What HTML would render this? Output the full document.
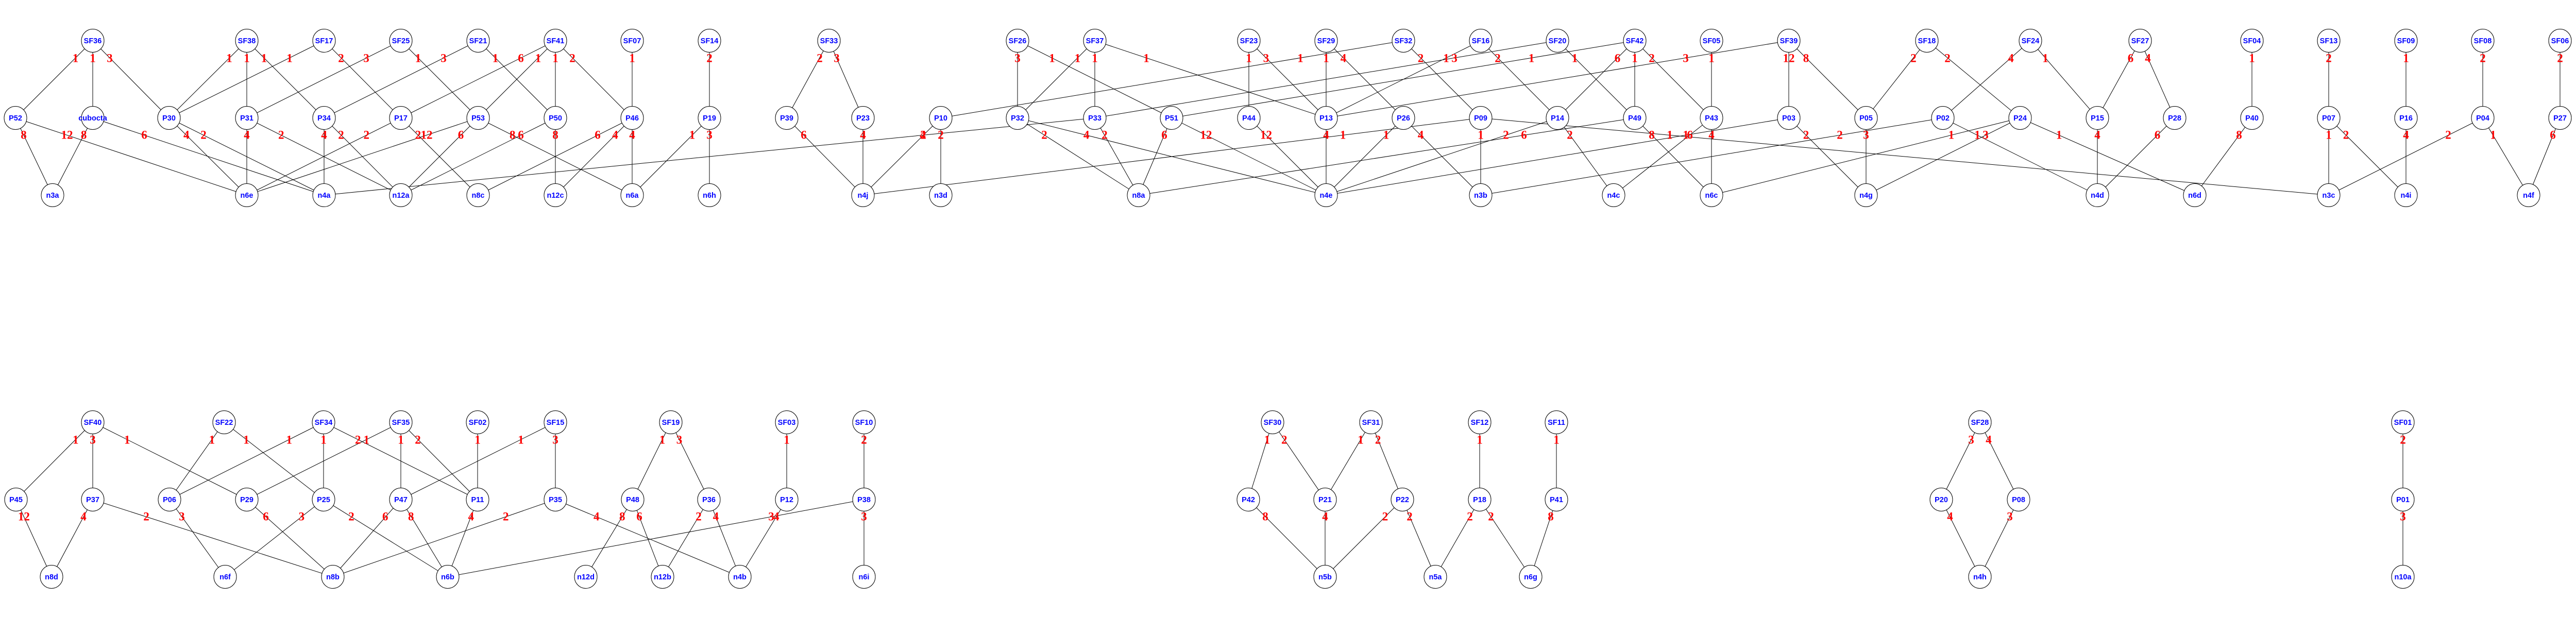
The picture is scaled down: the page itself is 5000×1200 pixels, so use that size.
<!DOCTYPE html>
<html><head><meta charset="utf-8"><style>
html,body{margin:0;padding:0;background:#fff;}
svg{display:block;}
.n{font-family:"Liberation Sans",Arial,sans-serif;font-weight:bold;font-size:14.5px;fill:#0000ff;text-anchor:middle;}
.l{font-family:"Liberation Serif","Times New Roman",serif;font-weight:bold;font-size:23px;fill:#ff0000;text-anchor:middle;}
</style></head><body>
<svg width="5000" height="1200" viewBox="0 0 5000 1200" xmlns="http://www.w3.org/2000/svg">
<rect width="5000" height="1200" fill="#fff"/>
<g stroke="#000" stroke-width="1" fill="none">
<path d="M180 79L30 229M180 79L180 229M180 79L328 229M479 79L328 229M479 79L479 229M479 79L629 229M629 79L328 229M629 79L778 229M778 79L479 229M778 79L928 229M928 79L629 229M928 79L1078 229M1078 79L778 229M1078 79L928 229M1078 79L1078 229M1078 79L1227 229M1227 79L1227 229M1377 79L1377 229M1609 79L1527 229M1609 79L1675 229M1975 79L1975 229M1975 79L2274 229M2125 79L1975 229M2125 79L2125 229M2125 79L2574 229M2424 79L2424 229M2424 79L2574 229M2574 79L2574 229M2574 79L2724 229M2724 79L1826 229M2724 79L2874 229M2874 79L2574 229M2874 79L3023 229M3023 79L2125 229M3023 79L3173 229M3173 79L2274 229M3173 79L3023 229M3173 79L3173 229M3173 79L3322 229M3322 79L3322 229M3472 79L2574 229M3472 79L3472 229M3472 79L3622 229M3740 79L3622 229M3740 79L3921 229M3941 79L3771 229M3941 79L4071 229M4154 79L4071 229M4154 79L4221 229M4371 79L4371 229M4520 79L4520 229M4670 79L4670 229M4819 79L4819 229M4969 79L4969 229"/>
<path d="M30 229L102 379M30 229L479 379M180 229L102 379M180 229L629 379M328 229L479 379M328 229L629 379M479 229L479 379M479 229L778 379M629 229L629 379M629 229L778 379M778 229L479 379M778 229L928 379M928 229L479 379M928 229L778 379M928 229L1227 379M1078 229L778 379M1078 229L1078 379M1227 229L928 379M1227 229L1078 379M1227 229L1227 379M1377 229L1227 379M1377 229L1377 379M1527 229L1675 379M1675 229L1675 379M1826 229L1675 379M1826 229L1826 379M2125 229L629 379M1975 229L2210 379M1975 229L2574 379M2125 229L2210 379M2274 229L2210 379M2274 229L2574 379M2424 229L2574 379M2574 229L2574 379M2724 229L2574 379M2724 229L2874 379M2874 229L1675 379M2874 229L2874 379M2874 229L4520 379M3023 229L2574 379M3023 229L3132 379M3173 229L2210 379M3173 229L3322 379M3322 229L3132 379M3322 229L3322 379M3472 229L2574 379M3472 229L3622 379M3622 229L3622 379M3771 229L2874 379M3771 229L4071 379M3921 229L3322 379M3921 229L3622 379M3921 229L4260 379M4071 229L4071 379M4221 229L4071 379M4371 229L4260 379M4520 229L4520 379M4520 229L4670 379M4670 229L4670 379M4819 229L4520 379M4819 229L4908 379M4969 229L4908 379"/>
<path d="M180 820L31 970M180 820L180 970M180 820L479 970M435 820L329 970M435 820L628 970M628 820L329 970M628 820L628 970M628 820L927 970M778 820L479 970M778 820L778 970M778 820L927 970M927 820L927 970M1078 820L778 970M1078 820L1078 970M1302 820L1228 970M1302 820L1376 970M1527 820L1527 970M1677 820L1677 970M2470 820L2423 970M2470 820L2572 970M2661 820L2572 970M2661 820L2722 970M2872 820L2872 970M3021 820L3021 970M3843 820L3768 970M3843 820L3918 970M4664 820L4664 970"/>
<path d="M31 970L100 1120M180 970L100 1120M180 970L646 1120M329 970L437 1120M479 970L646 1120M628 970L437 1120M628 970L869 1120M778 970L646 1120M778 970L869 1120M927 970L869 1120M1078 970L646 1120M1078 970L1436 1120M1228 970L1137 1120M1228 970L1286 1120M1376 970L1286 1120M1376 970L1436 1120M1527 970L1436 1120M1677 970L869 1120M1677 970L1677 1120M2423 970L2572 1120M2572 970L2572 1120M2722 970L2572 1120M2722 970L2786 1120M2872 970L2786 1120M2872 970L2971 1120M3021 970L2971 1120M3768 970L3843 1120M3918 970L3843 1120M4664 970L4664 1120"/>
</g>
<g stroke="#000" stroke-width="1" fill="#fff">
<!-- top SF row y=79 -->
<ellipse cx="180" cy="79" rx="22" ry="22.5"/><ellipse cx="479" cy="79" rx="22" ry="22.5"/><ellipse cx="629" cy="79" rx="22" ry="22.5"/><ellipse cx="778" cy="79" rx="22" ry="22.5"/><ellipse cx="928" cy="79" rx="22" ry="22.5"/><ellipse cx="1078" cy="79" rx="22" ry="22.5"/><ellipse cx="1227" cy="79" rx="22" ry="22.5"/><ellipse cx="1377" cy="79" rx="22" ry="22.5"/><ellipse cx="1609" cy="79" rx="22" ry="22.5"/><ellipse cx="1975" cy="79" rx="22" ry="22.5"/><ellipse cx="2125" cy="79" rx="22" ry="22.5"/><ellipse cx="2424" cy="79" rx="22" ry="22.5"/><ellipse cx="2574" cy="79" rx="22" ry="22.5"/><ellipse cx="2724" cy="79" rx="22" ry="22.5"/><ellipse cx="2874" cy="79" rx="22" ry="22.5"/><ellipse cx="3023" cy="79" rx="22" ry="22.5"/><ellipse cx="3173" cy="79" rx="22" ry="22.5"/><ellipse cx="3322" cy="79" rx="22" ry="22.5"/><ellipse cx="3472" cy="79" rx="22" ry="22.5"/><ellipse cx="3740" cy="79" rx="22" ry="22.5"/><ellipse cx="3941" cy="79" rx="22" ry="22.5"/><ellipse cx="4154" cy="79" rx="22" ry="22.5"/><ellipse cx="4371" cy="79" rx="22" ry="22.5"/><ellipse cx="4520" cy="79" rx="22" ry="22.5"/><ellipse cx="4670" cy="79" rx="22" ry="22.5"/><ellipse cx="4819" cy="79" rx="22" ry="22.5"/><ellipse cx="4969" cy="79" rx="22" ry="22.5"/>
<!-- top P row y=229 -->
<ellipse cx="30" cy="229" rx="22" ry="22.5"/><ellipse cx="180" cy="229" rx="22" ry="22.5"/><ellipse cx="328" cy="229" rx="22" ry="22.5"/><ellipse cx="479" cy="229" rx="22" ry="22.5"/><ellipse cx="629" cy="229" rx="22" ry="22.5"/><ellipse cx="778" cy="229" rx="22" ry="22.5"/><ellipse cx="928" cy="229" rx="22" ry="22.5"/><ellipse cx="1078" cy="229" rx="22" ry="22.5"/><ellipse cx="1227" cy="229" rx="22" ry="22.5"/><ellipse cx="1377" cy="229" rx="22" ry="22.5"/><ellipse cx="1527" cy="229" rx="22" ry="22.5"/><ellipse cx="1675" cy="229" rx="22" ry="22.5"/><ellipse cx="1826" cy="229" rx="22" ry="22.5"/><ellipse cx="1975" cy="229" rx="22" ry="22.5"/><ellipse cx="2125" cy="229" rx="22" ry="22.5"/><ellipse cx="2274" cy="229" rx="22" ry="22.5"/><ellipse cx="2424" cy="229" rx="22" ry="22.5"/><ellipse cx="2574" cy="229" rx="22" ry="22.5"/><ellipse cx="2724" cy="229" rx="22" ry="22.5"/><ellipse cx="2874" cy="229" rx="22" ry="22.5"/><ellipse cx="3023" cy="229" rx="22" ry="22.5"/><ellipse cx="3173" cy="229" rx="22" ry="22.5"/><ellipse cx="3322" cy="229" rx="22" ry="22.5"/><ellipse cx="3472" cy="229" rx="22" ry="22.5"/><ellipse cx="3622" cy="229" rx="22" ry="22.5"/><ellipse cx="3771" cy="229" rx="22" ry="22.5"/><ellipse cx="3921" cy="229" rx="22" ry="22.5"/><ellipse cx="4071" cy="229" rx="22" ry="22.5"/><ellipse cx="4221" cy="229" rx="22" ry="22.5"/><ellipse cx="4371" cy="229" rx="22" ry="22.5"/><ellipse cx="4520" cy="229" rx="22" ry="22.5"/><ellipse cx="4670" cy="229" rx="22" ry="22.5"/><ellipse cx="4819" cy="229" rx="22" ry="22.5"/><ellipse cx="4969" cy="229" rx="22" ry="22.5"/>
<!-- top n row y=379 -->
<ellipse cx="102" cy="379" rx="22" ry="22.5"/><ellipse cx="479" cy="379" rx="22" ry="22.5"/><ellipse cx="629" cy="379" rx="22" ry="22.5"/><ellipse cx="778" cy="379" rx="22" ry="22.5"/><ellipse cx="928" cy="379" rx="22" ry="22.5"/><ellipse cx="1078" cy="379" rx="22" ry="22.5"/><ellipse cx="1227" cy="379" rx="22" ry="22.5"/><ellipse cx="1377" cy="379" rx="22" ry="22.5"/><ellipse cx="1675" cy="379" rx="22" ry="22.5"/><ellipse cx="1826" cy="379" rx="22" ry="22.5"/><ellipse cx="2210" cy="379" rx="22" ry="22.5"/><ellipse cx="2574" cy="379" rx="22" ry="22.5"/><ellipse cx="2874" cy="379" rx="22" ry="22.5"/><ellipse cx="3132" cy="379" rx="22" ry="22.5"/><ellipse cx="3322" cy="379" rx="22" ry="22.5"/><ellipse cx="3622" cy="379" rx="22" ry="22.5"/><ellipse cx="4071" cy="379" rx="22" ry="22.5"/><ellipse cx="4260" cy="379" rx="22" ry="22.5"/><ellipse cx="4520" cy="379" rx="22" ry="22.5"/><ellipse cx="4670" cy="379" rx="22" ry="22.5"/><ellipse cx="4908" cy="379" rx="22" ry="22.5"/>
<!-- bottom SF row y=820 -->
<ellipse cx="180" cy="820" rx="22" ry="22.5"/><ellipse cx="435" cy="820" rx="22" ry="22.5"/><ellipse cx="628" cy="820" rx="22" ry="22.5"/><ellipse cx="778" cy="820" rx="22" ry="22.5"/><ellipse cx="927" cy="820" rx="22" ry="22.5"/><ellipse cx="1078" cy="820" rx="22" ry="22.5"/><ellipse cx="1302" cy="820" rx="22" ry="22.5"/><ellipse cx="1527" cy="820" rx="22" ry="22.5"/><ellipse cx="1677" cy="820" rx="22" ry="22.5"/><ellipse cx="2470" cy="820" rx="22" ry="22.5"/><ellipse cx="2661" cy="820" rx="22" ry="22.5"/><ellipse cx="2872" cy="820" rx="22" ry="22.5"/><ellipse cx="3021" cy="820" rx="22" ry="22.5"/><ellipse cx="3843" cy="820" rx="22" ry="22.5"/><ellipse cx="4664" cy="820" rx="22" ry="22.5"/>
<!-- bottom P row y=970 -->
<ellipse cx="31" cy="970" rx="22" ry="22.5"/><ellipse cx="180" cy="970" rx="22" ry="22.5"/><ellipse cx="329" cy="970" rx="22" ry="22.5"/><ellipse cx="479" cy="970" rx="22" ry="22.5"/><ellipse cx="628" cy="970" rx="22" ry="22.5"/><ellipse cx="778" cy="970" rx="22" ry="22.5"/><ellipse cx="927" cy="970" rx="22" ry="22.5"/><ellipse cx="1078" cy="970" rx="22" ry="22.5"/><ellipse cx="1228" cy="970" rx="22" ry="22.5"/><ellipse cx="1376" cy="970" rx="22" ry="22.5"/><ellipse cx="1527" cy="970" rx="22" ry="22.5"/><ellipse cx="1677" cy="970" rx="22" ry="22.5"/><ellipse cx="2423" cy="970" rx="22" ry="22.5"/><ellipse cx="2572" cy="970" rx="22" ry="22.5"/><ellipse cx="2722" cy="970" rx="22" ry="22.5"/><ellipse cx="2872" cy="970" rx="22" ry="22.5"/><ellipse cx="3021" cy="970" rx="22" ry="22.5"/><ellipse cx="3768" cy="970" rx="22" ry="22.5"/><ellipse cx="3918" cy="970" rx="22" ry="22.5"/><ellipse cx="4664" cy="970" rx="22" ry="22.5"/>
<!-- bottom n row y=1120 -->
<ellipse cx="100" cy="1120" rx="22" ry="22.5"/><ellipse cx="437" cy="1120" rx="22" ry="22.5"/><ellipse cx="646" cy="1120" rx="22" ry="22.5"/><ellipse cx="869" cy="1120" rx="22" ry="22.5"/><ellipse cx="1137" cy="1120" rx="22" ry="22.5"/><ellipse cx="1286" cy="1120" rx="22" ry="22.5"/><ellipse cx="1436" cy="1120" rx="22" ry="22.5"/><ellipse cx="1677" cy="1120" rx="22" ry="22.5"/><ellipse cx="2572" cy="1120" rx="22" ry="22.5"/><ellipse cx="2786" cy="1120" rx="22" ry="22.5"/><ellipse cx="2971" cy="1120" rx="22" ry="22.5"/><ellipse cx="3843" cy="1120" rx="22" ry="22.5"/><ellipse cx="4664" cy="1120" rx="22" ry="22.5"/>
</g>
<g class="n">
<text x="180" y="84">SF36</text><text x="479" y="84">SF38</text><text x="629" y="84">SF17</text><text x="778" y="84">SF25</text><text x="928" y="84">SF21</text><text x="1078" y="84">SF41</text><text x="1227" y="84">SF07</text><text x="1377" y="84">SF14</text><text x="1609" y="84">SF33</text><text x="1975" y="84">SF26</text><text x="2125" y="84">SF37</text><text x="2424" y="84">SF23</text><text x="2574" y="84">SF29</text><text x="2724" y="84">SF32</text><text x="2874" y="84">SF16</text><text x="3023" y="84">SF20</text><text x="3173" y="84">SF42</text><text x="3322" y="84">SF05</text><text x="3472" y="84">SF39</text><text x="3740" y="84">SF18</text><text x="3941" y="84">SF24</text><text x="4154" y="84">SF27</text><text x="4371" y="84">SF04</text><text x="4520" y="84">SF13</text><text x="4670" y="84">SF09</text><text x="4819" y="84">SF08</text><text x="4969" y="84">SF06</text>
<text x="30" y="234">P52</text><text x="180" y="234">cubocta</text><text x="328" y="234">P30</text><text x="479" y="234">P31</text><text x="629" y="234">P34</text><text x="778" y="234">P17</text><text x="928" y="234">P53</text><text x="1078" y="234">P50</text><text x="1227" y="234">P46</text><text x="1377" y="234">P19</text><text x="1527" y="234">P39</text><text x="1675" y="234">P23</text><text x="1826" y="234">P10</text><text x="1975" y="234">P32</text><text x="2125" y="234">P33</text><text x="2274" y="234">P51</text><text x="2424" y="234">P44</text><text x="2574" y="234">P13</text><text x="2724" y="234">P26</text><text x="2874" y="234">P09</text><text x="3023" y="234">P14</text><text x="3173" y="234">P49</text><text x="3322" y="234">P43</text><text x="3472" y="234">P03</text><text x="3622" y="234">P05</text><text x="3771" y="234">P02</text><text x="3921" y="234">P24</text><text x="4071" y="234">P15</text><text x="4221" y="234">P28</text><text x="4371" y="234">P40</text><text x="4520" y="234">P07</text><text x="4670" y="234">P16</text><text x="4819" y="234">P04</text><text x="4969" y="234">P27</text>
<text x="102" y="384">n3a</text><text x="479" y="384">n6e</text><text x="629" y="384">n4a</text><text x="778" y="384">n12a</text><text x="928" y="384">n8c</text><text x="1078" y="384">n12c</text><text x="1227" y="384">n6a</text><text x="1377" y="384">n6h</text><text x="1675" y="384">n4j</text><text x="1826" y="384">n3d</text><text x="2210" y="384">n8a</text><text x="2574" y="384">n4e</text><text x="2874" y="384">n3b</text><text x="3132" y="384">n4c</text><text x="3322" y="384">n6c</text><text x="3622" y="384">n4g</text><text x="4071" y="384">n4d</text><text x="4260" y="384">n6d</text><text x="4520" y="384">n3c</text><text x="4670" y="384">n4i</text><text x="4908" y="384">n4f</text>
<text x="180" y="825">SF40</text><text x="435" y="825">SF22</text><text x="628" y="825">SF34</text><text x="778" y="825">SF35</text><text x="927" y="825">SF02</text><text x="1078" y="825">SF15</text><text x="1302" y="825">SF19</text><text x="1527" y="825">SF03</text><text x="1677" y="825">SF10</text><text x="2470" y="825">SF30</text><text x="2661" y="825">SF31</text><text x="2872" y="825">SF12</text><text x="3021" y="825">SF11</text><text x="3843" y="825">SF28</text><text x="4664" y="825">SF01</text>
<text x="31" y="975">P45</text><text x="180" y="975">P37</text><text x="329" y="975">P06</text><text x="479" y="975">P29</text><text x="628" y="975">P25</text><text x="778" y="975">P47</text><text x="927" y="975">P11</text><text x="1078" y="975">P35</text><text x="1228" y="975">P48</text><text x="1376" y="975">P36</text><text x="1527" y="975">P12</text><text x="1677" y="975">P38</text><text x="2423" y="975">P42</text><text x="2572" y="975">P21</text><text x="2722" y="975">P22</text><text x="2872" y="975">P18</text><text x="3021" y="975">P41</text><text x="3768" y="975">P20</text><text x="3918" y="975">P08</text><text x="4664" y="975">P01</text>
<text x="100" y="1125">n8d</text><text x="437" y="1125">n6f</text><text x="646" y="1125">n8b</text><text x="869" y="1125">n6b</text><text x="1137" y="1125">n12d</text><text x="1286" y="1125">n12b</text><text x="1436" y="1125">n4b</text><text x="1677" y="1125">n6i</text><text x="2572" y="1125">n5b</text><text x="2786" y="1125">n5a</text><text x="2971" y="1125">n6g</text><text x="3843" y="1125">n4h</text><text x="4664" y="1125">n10a</text>
</g>
<g class="l">
<text x="146.5" y="120.5">1</text><text x="180" y="120.5">1</text><text x="213" y="120.5">3</text><text x="445" y="120.5">1</text><text x="479" y="120.5">1</text><text x="512.5" y="120.5">1</text><text x="562" y="120.5">1</text><text x="662" y="120.5">2</text><text x="711" y="120.5">3</text><text x="811.5" y="120.5">1</text><text x="861" y="120.5">3</text><text x="961.5" y="120.5">1</text><text x="1011" y="120.5">6</text><text x="1044.5" y="120.5">1</text><text x="1078" y="120.5">1</text><text x="1111" y="120.5">2</text><text x="1227" y="120.5">1</text><text x="1377" y="120.5">2</text><text x="1591" y="120.5">2</text><text x="1624" y="120.5">3</text><text x="1975" y="120.5">3</text><text x="2042" y="120.5">1</text><text x="2091.5" y="120.5">1</text><text x="2125" y="120.5">1</text><text x="2225" y="120.5">1</text><text x="2424" y="120.5">1</text><text x="2457.5" y="120.5">3</text><text x="2574" y="120.5">1</text><text x="2607.5" y="120.5">4</text><text x="2524" y="120.5">1</text><text x="2757.5" y="120.5">2</text><text x="2807" y="120.5">1</text><text x="2907" y="120.5">2</text><text x="2823" y="120.5">3</text><text x="3056.5" y="120.5">1</text><text x="2972.5" y="120.5">1</text><text x="3139.5" y="120.5">6</text><text x="3173" y="120.5">1</text><text x="3206" y="120.5">2</text><text x="3322" y="120.5">1</text><text x="3272" y="120.5">3</text><text x="3472" y="120.5">12</text><text x="3505.5" y="120.5">8</text><text x="3714" y="120.5">2</text><text x="3780" y="120.5">2</text><text x="3903" y="120.5">4</text><text x="3970" y="120.5">1</text><text x="4135.5" y="120.5">6</text><text x="4169" y="120.5">4</text><text x="4371" y="120.5">1</text><text x="4520" y="120.5">2</text><text x="4670" y="120.5">1</text><text x="4819" y="120.5">2</text><text x="4969" y="120.5">2</text>
<text x="46" y="269.5">8</text><text x="130" y="269.5">12</text><text x="162.6" y="269.5">8</text><text x="280" y="269.5">6</text><text x="361.7" y="269.5">4</text><text x="395" y="269.5">2</text><text x="479" y="269.5">4</text><text x="545.7" y="269.5">2</text><text x="629" y="269.5">4</text><text x="662" y="269.5">2</text><text x="711.3" y="269.5">2</text><text x="811.5" y="269.5">2</text><text x="828" y="269.5">12</text><text x="894.5" y="269.5">6</text><text x="994.7" y="269.5">8</text><text x="1011" y="269.5">6</text><text x="1078" y="269.5">8</text><text x="1160" y="269.5">6</text><text x="1194" y="269.5">4</text><text x="1227" y="269.5">4</text><text x="1343.5" y="269.5">1</text><text x="1377" y="269.5">3</text><text x="1560" y="269.5">6</text><text x="1675" y="269.5">4</text><text x="1792" y="269.5">2</text><text x="1826" y="269.5">2</text><text x="1791" y="269.5">4</text><text x="2027" y="269.5">2</text><text x="2108.6" y="269.5">4</text><text x="2144" y="269.5">2</text><text x="2260" y="269.5">6</text><text x="2341" y="269.5">12</text><text x="2457.5" y="269.5">12</text><text x="2574" y="269.5">4</text><text x="2690.5" y="269.5">1</text><text x="2757.5" y="269.5">4</text><text x="2606.6" y="269.5">1</text><text x="2874" y="269.5">1</text><text x="3241" y="269.5">1</text><text x="2923" y="269.5">2</text><text x="3047" y="269.5">2</text><text x="2958" y="269.5">6</text><text x="3206" y="269.5">8</text><text x="3280" y="269.5">6</text><text x="3322" y="269.5">4</text><text x="3272" y="269.5">1</text><text x="3505.5" y="269.5">2</text><text x="3622" y="269.5">3</text><text x="3571" y="269.5">2</text><text x="3838" y="269.5">1</text><text x="3787.4" y="269.5">1</text><text x="3854" y="269.5">3</text><text x="3996.6" y="269.5">1</text><text x="4071" y="269.5">4</text><text x="4187.5" y="269.5">6</text><text x="4346" y="269.5">8</text><text x="4520" y="269.5">1</text><text x="4553.5" y="269.5">2</text><text x="4670" y="269.5">4</text><text x="4752" y="269.5">2</text><text x="4839" y="269.5">1</text><text x="4955" y="269.5">6</text>
<text x="146.8" y="861.5">1</text><text x="180" y="861.5">3</text><text x="246.7" y="861.5">1</text><text x="411.4" y="861.5">1</text><text x="478" y="861.5">1</text><text x="561.3" y="861.5">1</text><text x="628" y="861.5">1</text><text x="694.7" y="861.5">2</text><text x="711.3" y="861.5">1</text><text x="778" y="861.5">1</text><text x="811" y="861.5">2</text><text x="927" y="861.5">1</text><text x="1011" y="861.5">1</text><text x="1078" y="861.5">3</text><text x="1285.5" y="861.5">1</text><text x="1318.5" y="861.5">3</text><text x="1527" y="861.5">1</text><text x="1677" y="861.5">2</text><text x="2459.5" y="861.5">1</text><text x="2492.7" y="861.5">2</text><text x="2641" y="861.5">1</text><text x="2674.6" y="861.5">2</text><text x="2872" y="861.5">1</text><text x="3021" y="861.5">1</text><text x="3826" y="861.5">3</text><text x="3860" y="861.5">4</text><text x="4664" y="861.5">2</text>
<text x="46.4" y="1010.5">12</text><text x="162" y="1010.5">4</text><text x="284" y="1010.5">2</text><text x="353" y="1010.5">3</text><text x="516" y="1010.5">6</text><text x="585.4" y="1010.5">3</text><text x="682" y="1010.5">2</text><text x="747.8" y="1010.5">6</text><text x="797.7" y="1010.5">8</text><text x="914.3" y="1010.5">4</text><text x="981.7" y="1010.5">2</text><text x="1157.8" y="1010.5">4</text><text x="1207.7" y="1010.5">8</text><text x="1241" y="1010.5">6</text><text x="1356" y="1010.5">2</text><text x="1389.4" y="1010.5">4</text><text x="1506.7" y="1010.5">4</text><text x="1497" y="1010.5">3</text><text x="1677" y="1010.5">3</text><text x="2456" y="1010.5">8</text><text x="2572" y="1010.5">4</text><text x="2688.5" y="1010.5">2</text><text x="2736" y="1010.5">2</text><text x="2853" y="1010.5">2</text><text x="2894" y="1010.5">2</text><text x="3010" y="1010.5">8</text><text x="3785" y="1010.5">4</text><text x="3901" y="1010.5">3</text><text x="4664" y="1010.5">3</text>
</g>
</svg>
</body></html>
